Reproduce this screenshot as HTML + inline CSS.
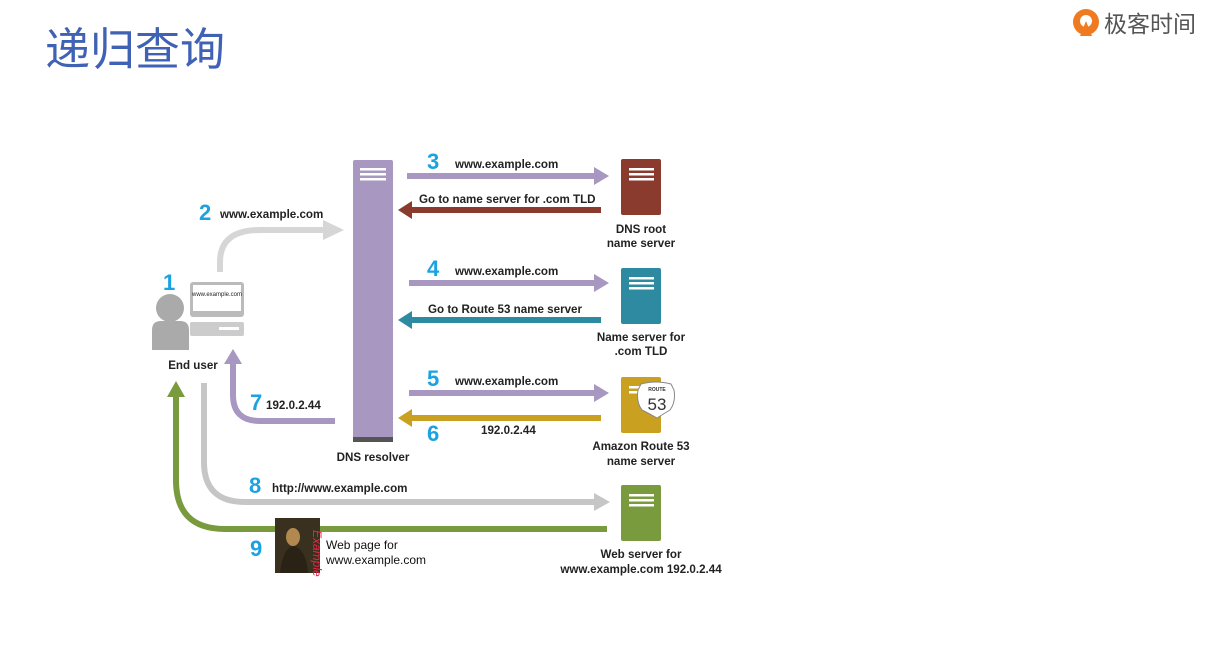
<!DOCTYPE html>
<html><head><meta charset="utf-8"><style>
body{margin:0;background:#fff;}
svg{display:block}
text{font-family:"Liberation Sans",Arial,sans-serif;}
.t{font-size:11.6px;font-weight:bold;fill:#222}
.n{font-size:22px;font-weight:bold;fill:#1aa3e0}
</style></head><body>
<svg width="1217" height="662" viewBox="0 0 1217 662">
<text x="45" y="65" font-size="45" fill="#3f62b4" style="font-family:'Liberation Sans','Noto Sans CJK SC',sans-serif">递归查询</text>
<!-- logo -->
<circle cx="1086" cy="22" r="13" fill="#f07a1f"/>
<circle cx="1086" cy="21" r="6" fill="#fff"/>
<path d="M1086 21 L1092 36 L1080 36 Z" fill="#f07a1f"/>
<text x="1104" y="32" font-size="23" fill="#555" style="font-family:'Noto Sans CJK SC',sans-serif">极客时间</text>

<!-- resolver -->
<rect x="353" y="160" width="40" height="282" rx="2" fill="#a797c1"/>
<rect x="353" y="437" width="40" height="5" fill="#555"/>
<g fill="#fff"><rect x="360" y="168" width="26" height="2.5"/><rect x="360" y="173" width="26" height="2.5"/><rect x="360" y="178" width="26" height="2.5"/></g>
<text class="t" x="373" y="461" text-anchor="middle">DNS resolver</text>

<!-- servers -->
<g>
<rect x="621" y="159" width="40" height="56" rx="2" fill="#8b3a2e"/>
<rect x="621" y="268" width="40" height="56" rx="2" fill="#2e8aa0"/>
<rect x="621" y="377" width="40" height="56" rx="2" fill="#c9a020"/>
<rect x="621" y="485" width="40" height="56" rx="2" fill="#7a9a3e"/>
<g fill="#fff">
<rect x="629" y="168" width="25" height="2.5"/><rect x="629" y="173" width="25" height="2.5"/><rect x="629" y="178" width="25" height="2.5"/>
<rect x="629" y="277" width="25" height="2.5"/><rect x="629" y="282" width="25" height="2.5"/><rect x="629" y="287" width="25" height="2.5"/>
<rect x="629" y="386" width="25" height="2.5"/><rect x="629" y="391" width="25" height="2.5"/>
<rect x="629" y="494" width="25" height="2.5"/><rect x="629" y="499" width="25" height="2.5"/><rect x="629" y="504" width="25" height="2.5"/>
</g>
<path d="M641 384 Q656 380 671 384 L674 390 Q676 402 670 410 Q660 416 657 418 Q650 414 642 410 Q636 402 638 390 Z" fill="#fff" stroke="#888" stroke-width="1"/>
<text x="657" y="391" font-size="5" text-anchor="middle" fill="#333" font-weight="bold">ROUTE</text>
<text x="657" y="410" font-size="17" text-anchor="middle" fill="#333">53</text>
</g>
<text class="t" x="641" y="233" text-anchor="middle">DNS root</text>
<text class="t" x="641" y="247" text-anchor="middle">name server</text>
<text class="t" x="641" y="341" text-anchor="middle">Name server for</text>
<text class="t" x="641" y="355" text-anchor="middle">.com TLD</text>
<text class="t" x="641" y="450" text-anchor="middle">Amazon Route 53</text>
<text class="t" x="641" y="465" text-anchor="middle">name server</text>
<text class="t" x="641" y="558" text-anchor="middle">Web server for</text>
<text class="t" x="641" y="573" text-anchor="middle">www.example.com 192.0.2.44</text>

<!-- horizontal arrows -->
<g stroke-width="6" fill="none">
<line x1="407" y1="176" x2="596" y2="176" stroke="#a797c1"/>
<line x1="410" y1="210" x2="601" y2="210" stroke="#8b3a2e"/>
<line x1="409" y1="283" x2="596" y2="283" stroke="#a797c1"/>
<line x1="410" y1="320" x2="601" y2="320" stroke="#2e8aa0"/>
<line x1="409" y1="393" x2="596" y2="393" stroke="#a797c1"/>
<line x1="410" y1="418" x2="601" y2="418" stroke="#c9a020"/>
</g>
<polygon points="594,167 609,176 594,185" fill="#a797c1"/>
<polygon points="412,201 398,210 412,219" fill="#8b3a2e"/>
<polygon points="594,274 609,283 594,292" fill="#a797c1"/>
<polygon points="412,311 398,320 412,329" fill="#2e8aa0"/>
<polygon points="594,384 609,393 594,402" fill="#a797c1"/>
<polygon points="412,409 398,418 412,427" fill="#c9a020"/>
<text class="n" x="427" y="169">3</text><text class="t" x="455" y="168">www.example.com</text>
<text class="t" x="419" y="203">Go to name server for .com TLD</text>
<text class="n" x="427" y="276">4</text><text class="t" x="455" y="275">www.example.com</text>
<text class="t" x="428" y="313">Go to Route 53 name server</text>
<text class="n" x="427" y="386">5</text><text class="t" x="455" y="385">www.example.com</text>
<text class="n" x="427" y="441">6</text><text class="t" x="481" y="434">192.0.2.44</text>

<!-- arrow 2 -->
<path d="M220 272 L220 262 Q220 230 260 230 L325 230" stroke="#d6d6d6" stroke-width="6" fill="none"/>
<polygon points="323,220 344,230 323,240" fill="#d6d6d6"/>
<text class="n" x="199" y="220">2</text><text class="t" x="220" y="218">www.example.com</text>

<!-- user -->
<circle cx="170" cy="308" r="14" fill="#aaa"/>
<path d="M152 350 L152 330 Q152 321 161 321 L180 321 Q189 321 189 330 L189 350 Z" fill="#aaa"/>
<rect x="190" y="282" width="54" height="35" rx="3" fill="#bbb"/>
<rect x="193" y="285" width="48" height="26" fill="#fff"/>
<text x="217" y="296" font-size="6" text-anchor="middle" fill="#222">www.example.com</text>
<rect x="190" y="322" width="54" height="14" rx="2" fill="#ccc"/>
<rect x="219" y="327" width="20" height="3" fill="#fff"/>
<text class="n" x="163" y="290">1</text>
<text class="t" x="193" y="369" text-anchor="middle">End user</text>

<!-- arrow 7 -->
<path d="M335 421 L260 421 Q233 421 233 395 L233 362" stroke="#a797c1" stroke-width="6" fill="none"/>
<polygon points="224,364 233,349 242,364" fill="#a797c1"/>
<text class="n" x="250" y="410">7</text><text class="t" x="266" y="409">192.0.2.44</text>

<!-- arrow 8 -->
<path d="M204 383 L204 462 Q204 502 245 502 L596 502" stroke="#c6c6c6" stroke-width="6" fill="none"/>
<polygon points="594,493 610,502 594,511" fill="#c6c6c6"/>
<text class="n" x="249" y="493">8</text><text class="t" x="272" y="492">http://www.example.com</text>

<!-- arrow 9 -->
<path d="M607 529 L225 529 Q176 529 176 480 L176 395" stroke="#7a9a3e" stroke-width="6" fill="none"/>
<polygon points="167,397 176,381 185,397" fill="#7a9a3e"/>
<text class="n" x="250" y="556">9</text>
<rect x="275" y="518" width="45" height="55" fill="#3a3020"/>
<ellipse cx="293" cy="537" rx="7" ry="9" fill="#b08850"/>
<path d="M280 573 Q283 548 293 546 Q306 548 308 573 Z" fill="#2a2214"/>
<text x="313" y="530" font-size="12" fill="#e24" font-style="italic" transform="rotate(90 313 530)">Example</text>
<text x="326" y="549" font-size="12" fill="#111">Web page for</text>
<text x="326" y="564" font-size="12" fill="#111">www.example.com</text>
</svg>
</body></html>
